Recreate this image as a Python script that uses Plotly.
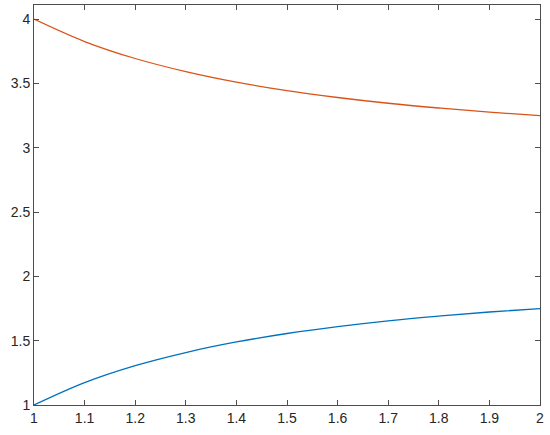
import plotly.graph_objects as go

# values
x_vals = [1.0, 1.1, 1.2, 1.3, 1.4, 1.5, 1.6, 1.7, 1.8, 1.9, 2.0]
lower = [1.0, 1.174, 1.306, 1.408, 1.490, 1.556, 1.609, 1.654, 1.691, 1.723, 1.75]
upper = [4.0, 3.826, 3.694, 3.592, 3.510, 3.444, 3.391, 3.346, 3.309, 3.277, 3.25]

x_ticks = [1.0, 1.1, 1.2, 1.3, 1.4, 1.5, 1.6, 1.7, 1.8, 1.9, 2.0]
x_tick_text = ["1", "1.1", "1.2", "1.3", "1.4", "1.5", "1.6", "1.7", "1.8", "1.9", "2"]
y_ticks = [1, 1.5, 2, 2.5, 3, 3.5, 4]
y_tick_text = ["1", "1.5", "2", "2.5", "3", "3.5", "4"]

fig = go.Figure()
fig.add_trace(go.Scatter(x=x_vals, y=lower, mode="lines", line_shape="spline",
                         line=dict(color="#0072BD", width=1.3)))
fig.add_trace(go.Scatter(x=x_vals, y=upper, mode="lines", line_shape="spline",
                         line=dict(color="#D95319", width=1.3)))

axis_style = dict(showgrid=False, zeroline=False, showline=True, mirror="ticks",
                  linecolor="#4d4d4d", linewidth=1, ticks="inside", ticklen=5,
                  tickcolor="#4d4d4d",
                  tickfont=dict(family="Liberation Sans", size=14, color="#262626"))

fig.update_xaxes(range=[1, 2], tickvals=x_ticks, ticktext=x_tick_text, **axis_style)
fig.update_yaxes(range=[1, 4.11], tickvals=y_ticks, ticktext=y_tick_text, **axis_style)

fig.update_layout(width=550, height=435, showlegend=False,
                  plot_bgcolor="white", paper_bgcolor="white",
                  margin=dict(l=34, r=10, t=5, b=30))

# drop the browser's default body margin so the figure fills the window
fig.write_html("out.html", config={"displayModeBar": False},
               post_script="document.body.style.margin='0';")
